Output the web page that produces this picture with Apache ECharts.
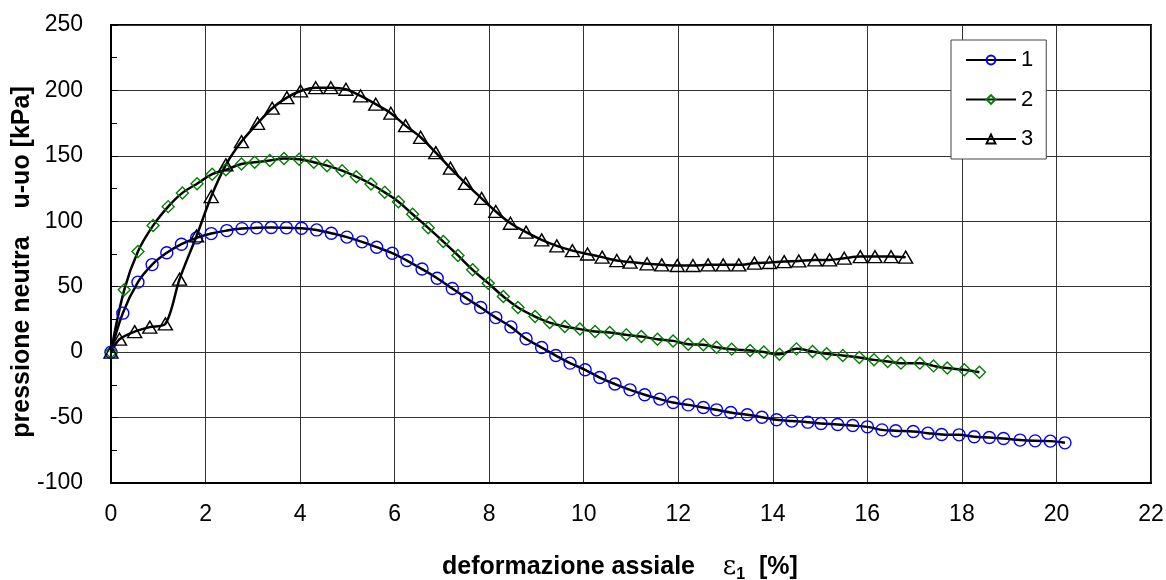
<!DOCTYPE html>
<html>
<head>
<meta charset="utf-8">
<script src="https://cdn.jsdelivr.net/npm/echarts@6/dist/echarts.min.js"></script>
<style>
html,body{margin:0;padding:0;background:#fff;}
#chart{width:1166px;height:580px;}
</style>
</head>
<body>
<div id="chart"></div>
<script>
// ---- data ----
const seriesNames = ['1', '2', '3'];

const s1x = [0,0.25,0.57,0.87,1.18,1.49,1.81,2.12,2.45,2.77,3.08,3.39,3.71,4.03,4.35,4.66,4.99,5.31,5.62,5.95,6.26,6.58,6.9,7.22,7.52,7.82,8.14,8.46,8.78,9.11,9.41,9.71,10.03,10.34,10.66,10.98,11.29,11.61,11.89,12.21,12.53,12.81,13.11,13.46,13.77,14.08,14.4,14.74,15.02,15.37,15.69,16.0,16.31,16.6,16.97,17.28,17.57,17.94,18.26,18.58,18.88,19.23,19.55,19.87,20.18];
const s1y = [0,29.8,53.5,66.9,75.9,82.5,87.3,90.6,92.9,94.4,95,95.2,95,94.7,93.4,90.9,87.9,84.3,80.2,75.6,70,63.5,56.5,48.6,41.2,34.1,26.4,19.3,10.2,3.5,-2.6,-8.4,-13.5,-19.4,-24.4,-28.8,-32.6,-35.9,-38.5,-40.3,-42.3,-44.1,-46.1,-47.9,-49.7,-51.7,-52.7,-53.5,-54.5,-55.3,-56.1,-57.1,-59.4,-60.1,-60.6,-61.9,-62.9,-63.2,-64.7,-65.2,-66,-67.2,-67.8,-68,-69.3];

const s2x = [0,0.28,0.57,0.89,1.21,1.51,1.82,2.14,2.43,2.76,3.04,3.36,3.66,3.98,4.29,4.57,4.89,5.19,5.5,5.79,6.08,6.38,6.71,7.03,7.34,7.65,7.98,8.3,8.61,8.97,9.28,9.6,9.92,10.24,10.55,10.9,11.22,11.56,11.89,12.21,12.53,12.81,13.13,13.52,13.81,14.14,14.5,14.84,15.14,15.48,15.83,16.14,16.43,16.71,17.11,17.4,17.69,18.05,18.37];
const s2y = [0,47.6,76.9,96.7,111.2,121.7,128.7,136,139.3,143.8,145.1,146.4,147.9,147.4,145.1,142.5,138.7,134.1,128.5,122.1,115,105.4,95,84.5,73.9,62.9,52.7,42.5,34.1,27.2,22.6,19.6,17.6,15.7,15,13.2,11.9,9.9,8.6,6.1,5.6,3.8,2.3,1.2,0.1,-1.7,2.5,0.5,-1.3,-2.6,-4.1,-5.9,-7.2,-8.4,-8.4,-10.5,-12.2,-13.5,-15.3];

const s3x = [0,0.18,0.5,0.82,1.15,1.45,1.81,2.12,2.43,2.76,3.1,3.41,3.72,4.01,4.33,4.65,4.97,5.28,5.6,5.92,6.23,6.55,6.87,7.18,7.5,7.84,8.14,8.45,8.78,9.11,9.43,9.76,10.08,10.39,10.7,10.98,11.34,11.65,11.98,12.31,12.63,12.95,13.28,13.61,13.93,14.24,14.55,14.89,15.2,15.51,15.85,16.16,16.5,16.81];
const s3y = [0,9.9,15.7,19.1,21.6,55.8,88.8,118.9,143.1,160.9,174.9,186.4,194.5,199.6,202.1,202.1,200.9,195.8,189.5,182.6,173.1,164.2,152.5,140.6,129,117.5,107.5,98.5,91.7,85.8,81.2,77.6,75,72.6,70,68.8,67.5,66.7,66.2,66.2,66.7,66.7,66.7,68,68.5,69.2,69.7,70.5,70.5,71.8,73,73,73,72.6];

const xTicks = {min: 0, max: 22, interval: 2};
const yTicks = {min: -100, max: 250, interval: 50};

const xTitle = 'deformazione assiale';
const yTitle = 'pressione neutra    u-uo [kPa]';

// ---- chart ----
const FONT = '"Liberation Sans", Arial, sans-serif';
const pairs = (xs, ys) => xs.map((x, i) => [x, ys[i]]);

const chart = echarts.init(document.getElementById('chart'), null, {renderer: 'canvas'});

const lineCommon = {
  type: 'line',
  showAllSymbol: true,
  lineStyle: {color: '#000', width: 2.5},
  emphasis: {disabled: true},
  animation: false
};

chart.setOption({
  backgroundColor: '#fff',
  animation: false,
  grid: {left: 111, right: 15, top: 25, bottom: 97, outerBoundsMode: 'none', containLabel: false,
         show: true, borderColor: '#000', borderWidth: 2, backgroundColor: '#fff'},
  legend: {
    orient: 'vertical',
    left: 951, top: 40,
    padding: [9, 13, 9, 14],
    itemWidth: 50, itemHeight: 11, itemGap: 17.5,
    backgroundColor: '#fff',
    borderColor: '#444', borderWidth: 1,
    textStyle: {fontFamily: FONT, fontSize: 22, color: '#000', lineHeight: 22},
    data: seriesNames
  },
  xAxis: {
    type: 'value', min: xTicks.min, max: xTicks.max, interval: xTicks.interval,
    axisLine: {show: true, onZero: false, lineStyle: {color: '#000', width: 2}},
    axisTick: {show: false},
    axisLabel: {fontFamily: FONT, fontSize: 23, color: '#000', margin: 20},
    splitLine: {show: true, lineStyle: {color: '#333', width: 1}},
    name: '{a|' + xTitle + '    }{e|ε}{s|1}{a|  [%]}',
    nameLocation: 'middle', nameGap: 68, nameMoveOverlap: false,
    nameTextStyle: {
      padding: [0, 22, 0, 0],
      rich: {
        a: {fontFamily: FONT, fontSize: 25, fontWeight: 'bold', color: '#000', lineHeight: 32},
        e: {fontFamily: '"DejaVu Serif", serif', fontSize: 26, color: '#000', lineHeight: 32},
        s: {fontFamily: FONT, fontSize: 16, fontWeight: 'bold', color: '#000', lineHeight: 16, verticalAlign: 'bottom'}
      }
    }
  },
  yAxis: {
    type: 'value', min: yTicks.min, max: yTicks.max, interval: yTicks.interval,
    axisLine: {show: true, onZero: false, lineStyle: {color: '#000', width: 2}},
    axisTick: {show: true, inside: true, length: 7, lineStyle: {color: '#000'}},
    minorTick: {show: true, splitNumber: 2, length: 6, lineStyle: {color: '#000'}},
    axisLabel: {fontFamily: FONT, fontSize: 23, color: '#000', margin: 28},
    splitLine: {show: true, lineStyle: {color: '#333', width: 1}},
    name: yTitle,
    nameLocation: 'middle', nameGap: 76, nameMoveOverlap: false,
    nameTextStyle: {fontFamily: FONT, fontSize: 25, fontWeight: 'bold', color: '#000', padding: [0, 16, 0, 0]}
  },
  series: [
    Object.assign({}, lineCommon, {
      name: seriesNames[0], data: pairs(s1x, s1y), smooth: 0.4,
      symbol: 'circle', symbolSize: 12,
      itemStyle: {color: 'rgba(255,255,255,0)', borderColor: '#0000ff', borderWidth: 1.4}
    }),
    Object.assign({}, lineCommon, {
      name: seriesNames[1], data: pairs(s2x, s2y), smooth: 0.4,
      symbol: 'diamond', symbolSize: 12,
      itemStyle: {color: 'rgba(255,255,255,0)', borderColor: '#008000', borderWidth: 1.4}
    }),
    Object.assign({}, lineCommon, {
      name: seriesNames[2], data: pairs(s3x, s3y), smooth: 0.3,
      symbol: 'triangle', symbolSize: [14, 12],
      itemStyle: {color: 'rgba(255,255,255,0)', borderColor: '#000', borderWidth: 1.4}
    })
  ]
});
</script>
</body>
</html>
